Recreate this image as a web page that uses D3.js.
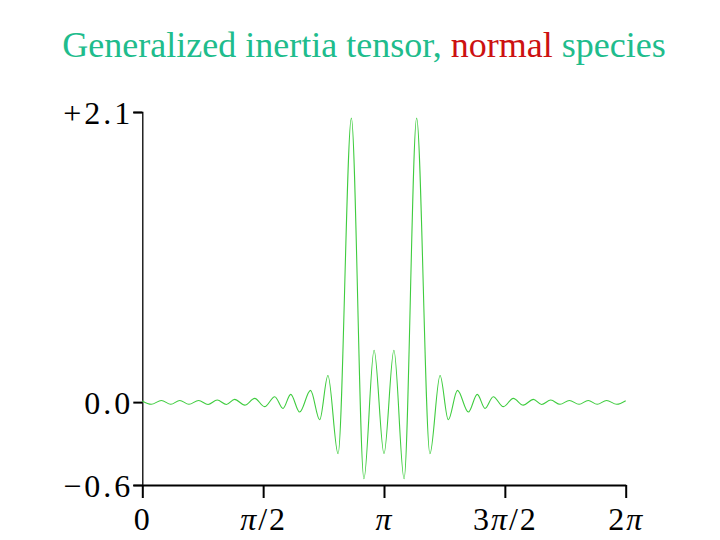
<!DOCTYPE html>
<html>
<head>
<meta charset="utf-8">
<script src="https://cdn.jsdelivr.net/npm/d3@7"></script>
<style>
	body { margin: 0; background: #fff; }
	svg { display: block; }
	text { font-family: "Liberation Serif", "Times New Roman", serif; }
</style>
</head>
<body>
<svg id="chart" width="720" height="540"></svg>
<script>
// x positions in units of pi (extrema of the curve)
const xPi = [
	0.000, 0.037, 0.079, 0.118, 0.155, 0.193, 0.233, 0.272, 0.310, 0.348,
	0.382, 0.424, 0.465, 0.506, 0.548, 0.582, 0.614, 0.651, 0.696, 0.734,
	0.768, 0.810, 0.865, 0.917, 0.959, 1.000, 1.041, 1.083, 1.135, 1.190,
	1.232, 1.266, 1.304, 1.349, 1.386, 1.418, 1.452, 1.494, 1.535, 1.576,
	1.618, 1.652, 1.690, 1.728, 1.767, 1.807, 1.845, 1.882, 1.921, 1.963,
	2.000
]
const values = [
	0.008, -0.016, 0.012, -0.016, 0.012, -0.016, 0.012, -0.017, 0.015, -0.017,
	0.020, -0.022, 0.027, -0.033, 0.039, -0.046, 0.056, -0.072, 0.085, -0.128,
	0.193, -0.374, 2.056, -0.555, 0.375, -0.374, 0.375, -0.555, 2.056, -0.374,
	0.193, -0.128, 0.085, -0.072, 0.056, -0.046, 0.039, -0.033, 0.027, -0.022,
	0.020, -0.017, 0.015, -0.016, 0.012, -0.016, 0.012, -0.016, 0.012, -0.016,
	0.010
]
const yTicks = [2.1, 0.0, -0.6]
const yTickLabels = ["+2.1", "0.0", "\u22120.6"]
const xTicks = [0, 0.5, 1, 1.5, 2]
const xTickLabels = [["0"], ["π", "/2"], ["π"], ["3", "π", "/2"], ["2", "π"]]

const svg = d3.select("#chart")

const x = d3.scaleLinear().domain([0, 2]).range([142.3, 625.7])
const y = d3.scaleLinear().domain([-0.6, 2.1]).range([485, 112])

// title
const title = svg.append("text")
	.attr("x", 364)
	.attr("y", 57)
	.attr("text-anchor", "middle")
	.style("font-size", "36px")
title.append("tspan").attr("fill", "#20bc8c").text("Generalized inertia tensor, ")
title.append("tspan").attr("fill", "#cc1111").text("normal")
title.append("tspan").attr("fill", "#20bc8c").text(" species")

// y axis
const yAxis = svg.append("g")
	.attr("transform", `translate(${x(0)},0)`)
	.call(d3.axisLeft(y).tickValues(yTicks).tickSize(9).tickFormat(""))
yAxis.select(".domain").attr("stroke", "#000").attr("stroke-width", 1.3)
yAxis.selectAll(".tick line").attr("stroke", "#000").attr("stroke-width", 2)
yAxis.selectAll(".tick").append("text")
	.data(yTickLabels)
	.attr("x", -9)
	.attr("y", 11)
	.attr("text-anchor", "end")
	.attr("fill", "#000")
	.style("font-size", "32px")
	.style("letter-spacing", "3px")
	.text(d => d)

// x axis
const xAxis = svg.append("g")
	.attr("transform", `translate(0,${y(-0.6)})`)
	.call(d3.axisBottom(x).tickValues(xTicks).tickSize(13).tickSizeOuter(0).tickFormat(""))
xAxis.select(".domain").attr("stroke", "#000").attr("stroke-width", 2.2)
xAxis.selectAll(".tick line").attr("stroke", "#000").attr("stroke-width", 2)
xAxis.selectAll(".tick").append("text")
	.data(xTickLabels)
	.attr("y", 45)
	.attr("text-anchor", "middle")
	.attr("fill", "#000")
	.style("font-size", "32px")
	.style("letter-spacing", "2px")
	.each(function (parts) {
		const t = d3.select(this)
		parts.forEach(p => {
			t.append("tspan")
				.style("font-style", p === "π" ? "italic" : "normal")
				.text(p)
		})
	})

// curve
const line = d3.line()
	.x((d, i) => x(xPi[i]))
	.y(d => y(d))
	.curve(d3.curveMonotoneX)

svg.append("path")
	.datum(values)
	.attr("fill", "none")
	.attr("stroke", "#3fcc3f")
	.attr("stroke-width", 1.1)
	.attr("d", line)
</script>
</body>
</html>
